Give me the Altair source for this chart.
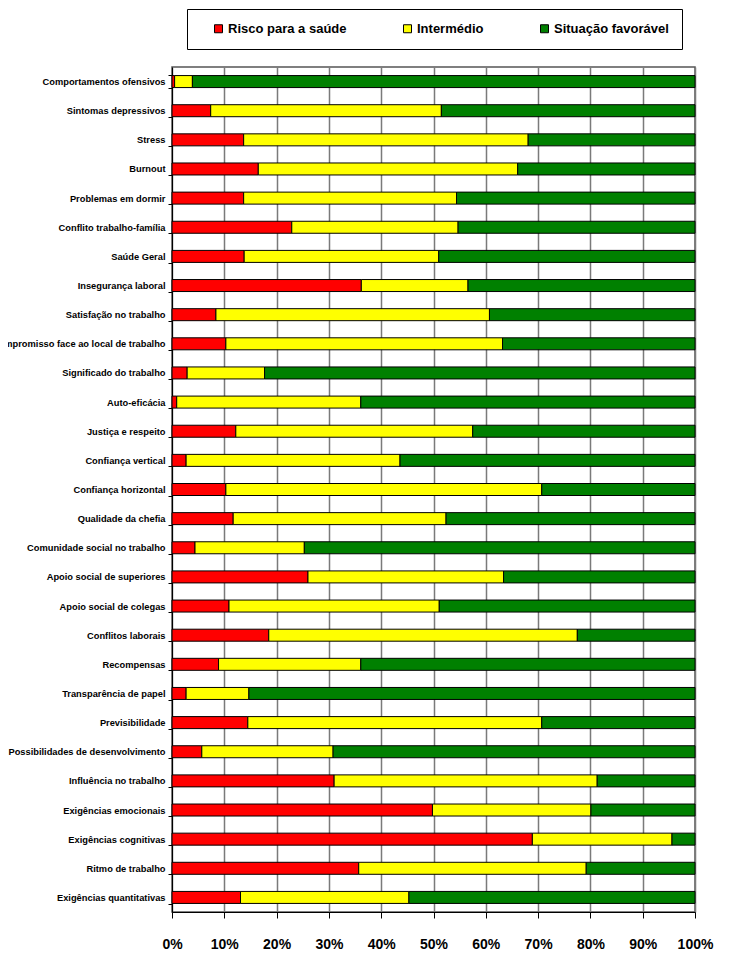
import altair as alt
import pandas as pd

categorias = [
    "Comportamentos ofensivos", "Sintomas depressivos", "Stress", "Burnout",
    "Problemas em dormir", "Conflito trabalho-família", "Saúde Geral",
    "Insegurança laboral", "Satisfação no trabalho",
    "Compromisso face ao local de trabalho", "Significado do trabalho",
    "Auto-eficácia", "Justiça e respeito", "Confiança vertical",
    "Confiança horizontal", "Qualidade da chefia",
    "Comunidade social no trabalho", "Apoio social de superiores",
    "Apoio social de colegas", "Conflitos laborais", "Recompensas",
    "Transparência de papel", "Previsibilidade",
    "Possibilidades de desenvolvimento", "Influência no trabalho",
    "Exigências emocionais", "Exigências cognitivas", "Ritmo de trabalho",
    "Exigências quantitativas",
]
risco = [0.5, 7.4, 13.7, 16.5, 13.7, 22.9, 13.8, 36.2, 8.4, 10.3, 2.9, 0.9,
         12.2, 2.7, 10.3, 11.7, 4.4, 26.0, 10.9, 18.5, 8.9, 2.7, 14.5, 5.7,
         31.0, 49.8, 68.9, 35.7, 13.1]
intermedio = [3.4, 44.1, 54.4, 49.6, 40.7, 31.8, 37.2, 20.4, 52.3, 52.9, 14.8,
              35.2, 45.3, 40.9, 60.4, 40.7, 20.9, 37.4, 40.2, 59.0, 27.2, 12.0,
              56.2, 25.1, 50.3, 30.3, 26.7, 43.5, 32.2]
favoravel = [96.1, 48.5, 31.9, 33.9, 45.6, 45.3, 49.0, 43.4, 39.3, 36.8, 82.3,
             63.9, 42.5, 56.4, 29.3, 47.6, 74.7, 36.6, 48.9, 22.5, 63.9, 85.3,
             29.3, 69.2, 18.7, 19.9, 4.4, 20.8, 54.7]
series = ["Risco para a saúde", "Intermédio", "Situação favorável"]
cores = ["#FF0000", "#FFFF00", "#008000"]

rows = []
for i, c in enumerate(categorias):
    for k, (s, v) in enumerate(zip(series, [risco[i], intermedio[i], favoravel[i]])):
        rows.append({"cat": c, "serie": s, "ordem": k, "valor": v / 100.0})
df = pd.DataFrame(rows)

FONT = "Liberation Sans"

chart = alt.Chart(df).mark_bar(stroke="black", strokeWidth=1, size=12).encode(
    y=alt.Y("cat:N", sort=categorias, title=None,
            axis=alt.Axis(labelFont=FONT, labelFontSize=9.3, labelFontWeight="bold",
                          labelColor="black", labelPadding=3, tickBand="extent",
                          tickSize=4, tickColor="black", domainColor="black",
                          labelLimit=400, grid=False)),
    x=alt.X("valor:Q", stack="zero", title=None,
            scale=alt.Scale(domain=[0, 1], nice=False),
            axis=alt.Axis(format=".0%", values=[i / 10 for i in range(11)],
                          labelFont=FONT, labelFontSize=14, labelFontWeight="bold",
                          labelColor="black", labelPadding=19, tickSize=6,
                          tickColor="black", domainColor="black", labelOverlap=False,
                          labelFlush=False,
                          grid=True, gridColor="#7a7a7a", gridWidth=1.5)),
    color=alt.Color("serie:N", sort=series,
                    scale=alt.Scale(domain=series, range=cores),
                    legend=alt.Legend(title=None, orient="none", legendX=15, legendY=-58,
                                      direction="horizontal", strokeColor="black",
                                      fillColor="white", padding=13,
                                      symbolType="square", symbolSize=64,
                                      symbolStrokeColor="black", symbolStrokeWidth=1,
                                      symbolOpacity=1, symbolOffset=12, labelFont=FONT,
                                      labelFontSize=13, labelFontWeight="bold",
                                      labelColor="black", columnPadding=42,
                                      labelOffset=3, labelLimit=300)),
    order=alt.Order("ordem:Q"),
).properties(
    width=523, height=845,
    autosize=alt.AutoSizeParams(type="none"),
    padding={"left": 164, "top": 59, "right": 40, "bottom": 55},
).configure_view(stroke="#555555", strokeWidth=1.5).configure_scale(bandPaddingInner=0.58)

chart.save("out.html", embed_options={"renderer": "svg", "actions": False})
